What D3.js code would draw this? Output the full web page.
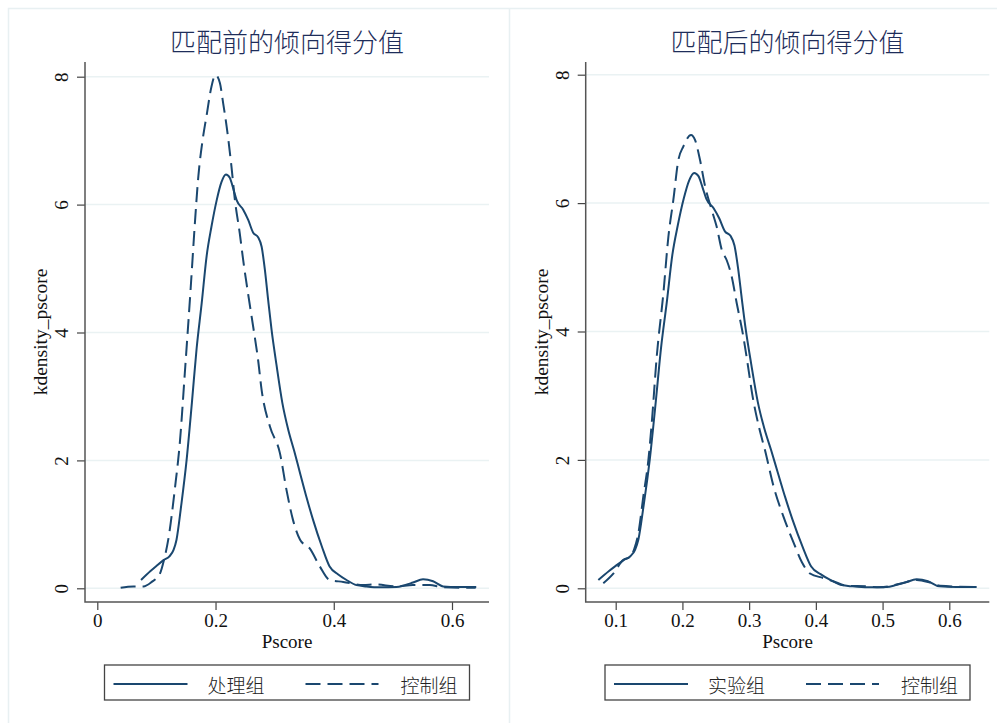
<!DOCTYPE html>
<html><head><meta charset="utf-8">
<script src="https://cdn.jsdelivr.net/npm/d3@7"></script>
<style>body{margin:0;background:#fff}</style></head>
<body><svg id="c" width="997" height="723"></svg>
<script>
// ---- data ----
const titles = ["匹配前的倾向得分值", "匹配后的倾向得分值"];
const legendLabels = [["处理组", "控制组"], ["实验组", "控制组"]];
const yTicks = [0, 2, 4, 6, 8];
const xTicksLeft = [0, 0.2, 0.4, 0.6];
const xTicksRight = [0.1, 0.2, 0.3, 0.4, 0.5, 0.6];
const xTitle = "Pscore";
const yTitle = "kdensity_pscore";

// treated group density (same in both panels)
const treated = [
  [0.074,0.13],[0.09,0.27],[0.10,0.35],[0.112,0.44],[0.122,0.50],[0.129,0.60],[0.134,0.76],
  [0.142,1.3],[0.151,2.0],[0.16,2.9],[0.168,3.75],[0.1765,4.45],[0.185,5.2],[0.193,5.65],
  [0.202,6.07],[0.21,6.35],[0.2176,6.47],[0.2241,6.42],[0.230,6.25],[0.2357,6.07],
  [0.2468,5.92],[0.2553,5.76],[0.2637,5.56],[0.272,5.49],[0.278,5.34],[0.2835,4.98],
  [0.289,4.51],[0.2948,4.04],[0.303,3.5],[0.313,2.9],[0.323,2.48],[0.333,2.15],
  [0.343,1.80],[0.354,1.42],[0.365,1.07],[0.38,0.65],[0.393,0.34],[0.407,0.22],
  [0.4216,0.13],[0.4385,0.05],[0.455,0.03],[0.478,0.015],[0.506,0.02],[0.52,0.05],
  [0.534,0.09],[0.551,0.14],[0.568,0.11],[0.585,0.03],[0.61,0.02],[0.641,0.02]
];
// control group density before matching
const controlBefore = [
  [0.0395,0.01],[0.061,0.03],[0.078,0.03],[0.092,0.10],[0.106,0.23],[0.113,0.45],
  [0.120,0.76],[0.131,1.54],[0.14,2.32],[0.148,3.36],[0.158,4.7],[0.165,5.7],
  [0.171,6.45],[0.178,7.0],[0.185,7.4],[0.193,7.84],[0.200,8.03],[0.2074,7.90],
  [0.213,7.58],[0.2188,7.22],[0.227,6.59],[0.2328,6.07],[0.241,5.55],[0.2468,5.13],
  [0.255,4.61],[0.2637,4.09],[0.272,3.57],[0.278,3.10],[0.292,2.53],[0.309,2.11],
  [0.320,1.54],[0.331,1.07],[0.343,0.76],[0.3596,0.62],[0.3765,0.34],[0.393,0.13],
  [0.416,0.10],[0.45,0.05],[0.47,0.06],[0.506,0.03],[0.534,0.05],[0.5625,0.05],
  [0.582,0.02],[0.62,0.01],[0.64,0.01]
];
// control group density after matching
const controlAfter = [
  [0.0814,0.08],[0.0964,0.23],[0.111,0.44],[0.1214,0.49],[0.128,0.62],[0.134,0.86],
  [0.1414,1.43],[0.149,2.0],[0.154,2.57],[0.1615,3.61],[0.1714,4.59],[0.179,5.48],
  [0.1864,6.05],[0.1939,6.67],[0.2013,6.88],[0.2129,7.06],[0.219,6.98],[0.2264,6.67],
  [0.234,6.26],[0.244,5.89],[0.2514,5.63],[0.259,5.27],[0.2664,5.11],[0.274,4.85],
  [0.2814,4.44],[0.2913,3.92],[0.297,3.55],[0.305,3.0],[0.315,2.5],[0.3238,2.15],
  [0.3363,1.6],[0.3513,1.12],[0.3663,0.72],[0.3789,0.41],[0.3913,0.23],[0.4113,0.16],
  [0.426,0.11],[0.4463,0.04],[0.4763,0.03],[0.496,0.015],[0.526,0.07],[0.5513,0.13],
  [0.571,0.09],[0.586,0.04],[0.641,0.02]
];

// ---- layout ----
const NAVY = "#1a476f";
const panels = [
  {title: titles[0], legend: legendLabels[0], xTicks: xTicksLeft, solid: treated, dashed: controlBefore,
   left: 85, right: 489, xd: [0, 0.6], xr: [97.3, 452], yr: [588.3, 76.7]},
  {title: titles[1], legend: legendLabels[1], xTicks: xTicksRight, solid: treated, dashed: controlAfter,
   left: 585.7, right: 989.3, xd: [0.1, 0.6], xr: [615.7, 949.3], yr: [588.3, 74.7]}
];
const plotTop = 62, plotBottom = 602;

const svg = d3.select("#c");
svg.append("rect").attr("width", 997).attr("height", 723).attr("fill", "#fff");
// panel borders
svg.append("path").attr("d", "M8.5,723 V8.5 H997 M509.5,8.5 V723")
  .attr("fill", "none").attr("stroke", "#e8f0f2").attr("stroke-width", 1.5);

panels.forEach(p => {
  const x = d3.scaleLinear().domain(p.xd).range(p.xr);
  const y = d3.scaleLinear().domain([0, 8]).range(p.yr);
  const g = svg.append("g");
  const cx = (p.left + p.right) / 2;

  // gridlines
  g.selectAll(".grid").data(yTicks).join("line")
    .attr("x1", p.left).attr("x2", p.right)
    .attr("y1", d => y(d)).attr("y2", d => y(d))
    .attr("stroke", "#eaf2f3").attr("stroke-width", 1.5);

  // y axis
  const ya = g.append("g").attr("transform", `translate(${p.left},0)`)
    .call(d3.axisLeft(y).tickValues(yTicks).tickSize(8).tickFormat(d3.format("d")));
  ya.select(".domain").remove();
  ya.selectAll(".tick line").attr("stroke", "#444").attr("stroke-width", 1.2);
  ya.selectAll(".tick text").attr("x", null).attr("dy", null).attr("y", null)
    .attr("transform", "translate(-17,0) rotate(-90)").attr("text-anchor", "middle")
    .attr("font-family", "Liberation Serif").attr("font-size", 19).attr("fill", "#111");

  // x axis
  const xa = g.append("g").attr("transform", `translate(0,${plotBottom})`)
    .call(d3.axisBottom(x).tickValues(p.xTicks).tickSize(8)
      .tickFormat(d => d === 0 ? "0" : d3.format(".1f")(d)));
  xa.select(".domain").remove();
  xa.selectAll(".tick line").attr("stroke", "#444").attr("stroke-width", 1.2);
  xa.selectAll(".tick text").attr("y", 24.7).attr("dy", null)
    .attr("font-family", "Liberation Serif").attr("font-size", 19).attr("fill", "#111");

  // axis lines
  g.append("path").attr("d", `M${p.left},${plotTop} V${plotBottom} H${p.right}`)
    .attr("fill", "none").attr("stroke", "#555").attr("stroke-width", 1.5);

  // curves
  const line = d3.line().x(d => x(d[0])).y(d => y(d[1])).curve(d3.curveMonotoneX);
  g.append("path").datum(p.solid).attr("d", line)
    .attr("fill", "none").attr("stroke", NAVY).attr("stroke-width", 2);
  g.append("path").datum(p.dashed).attr("d", line)
    .attr("fill", "none").attr("stroke", NAVY).attr("stroke-width", 2)
    .attr("stroke-dasharray", "15,7");

  // titles
  g.append("text").attr("x", cx).attr("y", 52).attr("text-anchor", "middle")
    .attr("font-family", "Noto Sans CJK SC").attr("font-weight", 300)
    .attr("font-size", 26).attr("fill", "#1e2d5a")
    .text(p.title);
  g.append("text").attr("x", cx).attr("y", 648.3).attr("text-anchor", "middle")
    .attr("font-family", "Liberation Serif").attr("font-size", 19).attr("fill", "#111")
    .text(xTitle);
  g.append("text").attr("transform", `translate(${p.left - 38},${(plotTop + plotBottom) / 2}) rotate(-90)`)
    .attr("text-anchor", "middle")
    .attr("font-family", "Liberation Serif").attr("font-size", 19.5).attr("fill", "#111")
    .text(yTitle);

  // legend
  const lx = cx - 182.5;
  g.append("rect").attr("x", lx).attr("y", 665).attr("width", 365).attr("height", 35)
    .attr("fill", "#fff").attr("stroke", "#444").attr("stroke-width", 1.3);
  g.append("line").attr("x1", lx + 9).attr("x2", lx + 83).attr("y1", 684).attr("y2", 684)
    .attr("stroke", NAVY).attr("stroke-width", 2);
  g.append("line").attr("x1", lx + 201).attr("x2", lx + 274).attr("y1", 684).attr("y2", 684)
    .attr("stroke", NAVY).attr("stroke-width", 2).attr("stroke-dasharray", "15,7");
  g.append("text").attr("x", lx + 103).attr("y", 684).attr("dominant-baseline", "central")
    .attr("font-family", "Noto Sans CJK SC").attr("font-weight", 300)
    .attr("font-size", 19).attr("fill", "#222")
    .text(p.legend[0]);
  g.append("text").attr("x", lx + 296).attr("y", 684).attr("dominant-baseline", "central")
    .attr("font-family", "Noto Sans CJK SC").attr("font-weight", 300)
    .attr("font-size", 19).attr("fill", "#222")
    .text(p.legend[1]);
});
</script></body></html>
